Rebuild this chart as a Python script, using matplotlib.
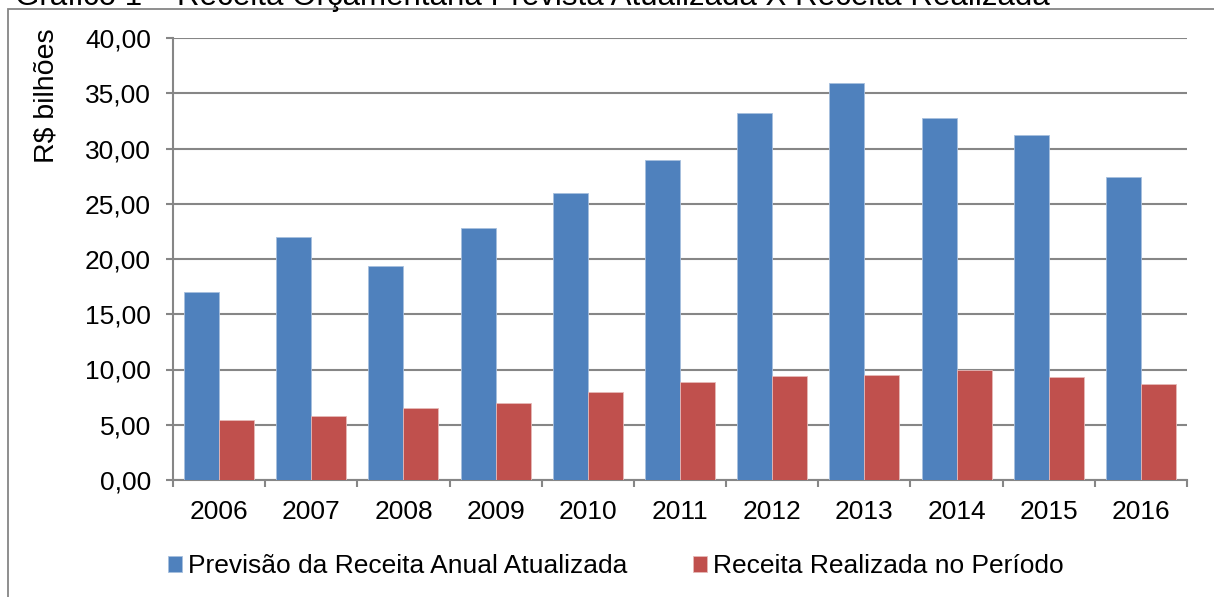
import numpy as np
import matplotlib
matplotlib.use("Agg")
import matplotlib.pyplot as plt
from matplotlib.patches import Rectangle

# valores (R$ bilhões)
anos = ["2006", "2007", "2008", "2009", "2010", "2011",
        "2012", "2013", "2014", "2015", "2016"]
previsao = [17.05, 22.0, 19.35, 22.85, 25.95, 29.0,
            33.25, 35.9, 32.75, 31.25, 27.4]
realizada = [5.45, 5.75, 6.55, 6.95, 7.95, 8.85,
             9.4, 9.5, 9.95, 9.35, 8.65]
yticks = [0, 5, 10, 15, 20, 25, 30, 35, 40]

titulo = "Gráfico 1 – Receita Orçamentária Prevista Atualizada X Receita Realizada"
serie1 = "Previsão da Receita Anual Atualizada"
serie2 = "Receita Realizada no Período"

AZUL = "#4F81BD"
VERMELHO = "#C0504D"
CINZA = "#868686"
FS = 19

plt.rcParams["font.family"] = ["Liberation Sans", "DejaVu Sans"]

W, H = 1214, 597
fig = plt.figure(figsize=(W / 100, H / 100), dpi=100)

# borda da área do gráfico (cortada à direita e embaixo)
fig.patches.append(Rectangle((8 / W, -0.1), 1.2, 1 - 9 / H + 0.1,
                             transform=fig.transFigure, fill=False,
                             edgecolor=CINZA, lw=1.3))

# título cortado no topo, como na imagem original
fig.text(15 / W, 1 - 5 / H, titulo, ha="left", va="baseline",
         fontsize=22.5, color="black")

ax = fig.add_axes([173 / W, 1 - 480 / H, (1187 - 173) / W, (480 - 38) / H])

x = np.arange(len(anos))
largura = 0.38
ax.bar(x - largura / 2, previsao, largura, color=AZUL,
       edgecolor="#A7BFDE", linewidth=0.6, label=serie1, zorder=3)
ax.bar(x + largura / 2, realizada, largura, color=VERMELHO,
       edgecolor="#E6B9B8", linewidth=0.6, label=serie2, zorder=3)

ax.set_xlim(-0.5, len(anos) - 0.5)
ax.set_ylim(0, 40)
ax.set_yticks(yticks)
ax.set_yticklabels([f"{v:.2f}".replace(".", ",") for v in yticks], fontsize=FS)
ax.yaxis.grid(True, color=CINZA, lw=1.5, zorder=0)

# rótulos no centro das categorias, marcas nas divisas
ax.set_xticks(x)
ax.set_xticklabels(anos, fontsize=FS)
ax.set_xticks(np.arange(-0.5, len(anos)), minor=True)
ax.tick_params(axis="x", which="major", length=0, pad=14.5)
ax.tick_params(axis="x", which="minor", length=5, width=1.5, color=CINZA)
ax.tick_params(axis="y", length=5, width=1.5, color=CINZA, pad=11)

for lado in ["top", "right"]:
    ax.spines[lado].set_visible(False)
for lado in ["left", "bottom"]:
    ax.spines[lado].set_color(CINZA)
    ax.spines[lado].set_linewidth(1.5)

fig.text(47 / W, 1 - 28 / H, "R$ bilhões", rotation=90, ha="center",
         va="top", fontsize=20.5)

fig.legend(loc="center", bbox_to_anchor=(0.507, 1 - 566 / H), ncol=2,
           frameon=False, fontsize=FS, handlelength=0.55, handleheight=0.55,
           handletextpad=0.2, columnspacing=2.5)

fig.savefig("out.png", dpi=100)
